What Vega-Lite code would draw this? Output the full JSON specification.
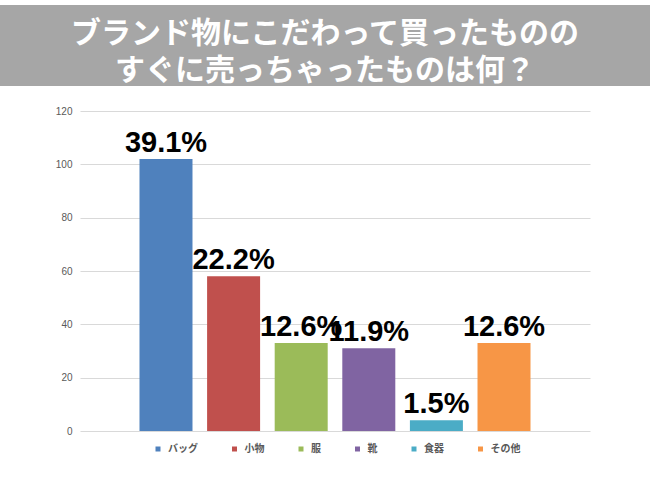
{
  "$schema": "https://vega.github.io/schema/vega-lite/v6.json",
  "padding": {"left": 0, "top": 5, "right": -20, "bottom": 0},
  "background": "white",
  "spacing": 20,
  "center": true,
  "config": {"view": {"stroke": null}},
  "resolve": {"legend": {"color": "independent"}},
  "vconcat": [
    {
      "width": 670,
      "height": 81,
      "view": {"fill": "#a6a6a6", "stroke": null},
      "data": {"values": [
        {"row": 1, "line": "ブランド物にこだわって買ったものの"},
        {"row": 2, "line": "すぐに売っちゃったものは何？"}
      ]},
      "mark": {"type": "text", "font": "Noto Sans CJK JP", "fontWeight": "bold", "fontSize": 30, "color": "white", "baseline": "middle", "dy": 7, "dx": -10},
      "encoding": {
        "y": {"field": "row", "type": "ordinal", "axis": null, "scale": {"padding": 0.6}},
        "text": {"field": "line"}
      }
    },
    {
      "width": 510,
      "height": 320,
      "data": {"values": [
        {"item": "バッグ", "value": 102, "label": "39.1%"},
        {"item": "小物", "value": 58, "label": "22.2%"},
        {"item": "服", "value": 33, "label": "12.6%"},
        {"item": "靴", "value": 31, "label": "11.9%"},
        {"item": "食器", "value": 4, "label": "1.5%"},
        {"item": "その他", "value": 33, "label": "12.6%"}
      ]},
      "encoding": {
        "x": {"field": "item", "type": "nominal", "sort": null, "axis": null,
              "scale": {"paddingInner": 0.216, "paddingOuter": 0.88}},
        "y": {"field": "value", "type": "quantitative",
              "scale": {"domain": [0, 120], "nice": false},
              "axis": {"title": null, "values": [0, 20, 40, 60, 80, 100, 120], "ticks": false, "domain": false,
                       "labelPadding": 8, "labelFont": "Liberation Sans", "labelFontSize": 10, "labelColor": "#595959",
                       "gridColor": "#d9d9d9", "gridWidth": 1}}
      },
      "layer": [
        {
          "mark": {"type": "bar"},
          "encoding": {
            "color": {"field": "item", "type": "nominal", "sort": null,
                      "scale": {"domain": ["バッグ", "小物", "服", "靴", "食器", "その他"],
                                "range": ["#4f81bd", "#c0504d", "#9bbb59", "#8064a2", "#4bacc6", "#f79646"]},
                      "legend": {"title": null, "orient": "none", "legendX": 73, "legendY": 333, "direction": "horizontal",
                                 "symbolType": "square", "symbolSize": 25, "symbolStrokeWidth": 0,
                                 "labelFont": "Noto Sans CJK JP", "labelFontWeight": "bold", "labelFontSize": 10, "labelColor": "#595959",
                                 "columnPadding": 31.5, "labelOffset": 5}}
          }
        },
        {
          "mark": {"type": "text", "font": "Liberation Sans", "fontWeight": "bold", "fontSize": 29, "color": "black", "baseline": "alphabetic", "dy": -7},
          "encoding": {"text": {"field": "label"}}
        }
      ]
    }
  ]
}
